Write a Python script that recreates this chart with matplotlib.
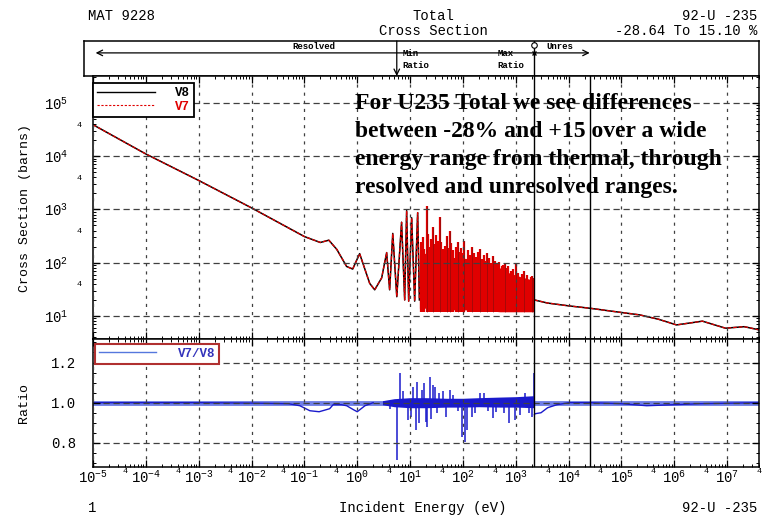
import numpy as np
import matplotlib
matplotlib.use("Agg")
import matplotlib.pyplot as plt
from matplotlib.lines import Line2D
from matplotlib.ticker import LogLocator, FuncFormatter, MultipleLocator, FixedLocator, NullFormatter

plt.rcParams['font.family'] = ['Liberation Mono', 'DejaVu Sans Mono']
plt.rcParams['mathtext.fontset'] = 'custom'
plt.rcParams['mathtext.rm'] = 'Liberation Mono'
plt.rcParams['mathtext.it'] = 'Liberation Mono'
plt.rcParams['axes.unicode_minus'] = False

# ---- data (energy in eV, cross section in barns) ----
# thermal + first resonances, one polyline
xs_low_e = [1e-5, 1e-4, 1e-3, 1e-2, 0.1, 0.2, 0.29, 0.41, 0.63, 0.82, 1.11, 1.72, 2.14,
            2.9, 3.6, 4.1, 4.7, 5.6, 6.9, 7.9, 8.6, 9.4, 10.7, 12.2, 13.9, 15.0]
xs_low_b = [3.9e4, 1.1e4, 3.5e3, 1070, 310, 240, 265, 178, 85, 76, 148, 41, 31,
            52, 155, 31, 355, 23, 575, 20, 950, 19, 700, 19, 870, 20]
# dense resolved resonance band (envelope)
band_e = [15, 20, 27, 36, 50, 70, 117, 200, 320, 500, 760, 1200, 1700, 2250]
band_hi = [150, 150, 140, 138, 130, 125, 120, 105, 92, 80, 64, 55, 50, 46]
band_lo = [14, 14, 14, 14, 13.5, 13, 13, 12.5, 12.5, 12, 12, 12, 12, 12]
# tall resonance peaks sticking out of the band
spike_e = [20.6, 26.8, 36.3, 49, 56, 79, 107, 146, 210, 290, 365, 615, 1000, 1450, 2070]
spike_b = [1170, 460, 710, 320, 400, 250, 260, 200, 180, 150, 135, 100, 100, 70, 56]
# smaller peaks making the ragged top of the band
bpeak_e = [16, 17.5, 18.5, 21.5, 23, 24.5, 28.5, 30.5, 32.5, 34, 39, 42, 45, 52, 60, 65,
           74, 85, 92, 100, 125, 135, 160, 175, 190, 230, 250, 270, 310, 340, 400, 440,
           480, 540, 580, 660, 720, 820, 900, 1100, 1300, 1600, 1900, 2150]
bpeak_b = [250, 300, 180, 350, 200, 280, 220, 330, 190, 260, 240, 180, 210, 190, 230, 170,
           200, 160, 185, 150, 170, 140, 155, 130, 160, 120, 140, 110, 125, 100, 110, 95,
           105, 85, 90, 80, 85, 70, 75, 65, 62, 58, 55, 52]
# unresolved + fast range
xs_high_e = [2250, 4000, 1e4, 2.5e4, 9e4, 2.2e5, 5e5, 1.1e6, 3.4e6, 9.3e6, 2.1e7, 4e7]
xs_high_b = [20, 17.5, 15.5, 14, 11.8, 10.5, 8.7, 6.8, 8.0, 5.9, 6.3, 5.5]

# ratio V7/V8
ratio_low_e = [1e-5, 1e-3, 1e-2, 0.05, 0.082, 0.127, 0.19, 0.3, 0.35, 0.5, 0.63, 0.85, 1.0, 1.4, 2.0]
ratio_low_v = [1.0, 1.0, 0.998, 0.995, 0.985, 0.96, 0.955, 0.97, 0.99, 0.99, 0.985, 0.965, 0.955, 0.985, 1.0]
ratio_band_e = [3, 5, 10, 20, 50, 100, 200, 500, 1000, 2250]
ratio_band_lo = [0.99, 0.98, 0.975, 0.975, 0.978, 0.978, 0.98, 0.978, 0.978, 0.975]
ratio_band_hi = [1.01, 1.02, 1.025, 1.025, 1.022, 1.022, 1.025, 1.028, 1.03, 1.035]
ratio_spike_e = [4.1, 5.6, 6.4, 7.5, 9.0, 10.5, 11.5, 12.7, 13.3, 15, 16.6, 18, 19.7, 21,
                 23.4, 25, 26.8, 30, 33, 36, 42, 47, 56, 65, 80, 95, 108, 118, 146, 170,
                 210, 250, 300, 365, 430, 600, 760, 950, 1200, 1500, 1800, 2070, 2250]
ratio_spike_v = [0.97, 0.715, 1.15, 1.06, 0.915, 0.93, 1.08, 0.865, 1.105, 0.9, 1.065, 1.1,
                 0.905, 0.88, 1.13, 0.92, 1.09, 1.08, 0.95, 1.05, 1.06, 0.93, 1.065, 1.04,
                 0.96, 0.83, 0.805, 0.865, 0.93, 0.95, 1.05, 1.05, 0.96, 0.925, 0.955, 0.95,
                 0.90, 0.915, 0.94, 1.05, 0.95, 0.93, 1.15]
ratio_high_e = [2250, 2300, 3000, 4000, 6000, 1e4, 2.5e4, 1e5, 3e5, 1e6, 3e6, 4e7]
ratio_high_v = [0.94, 0.945, 0.95, 0.975, 0.99, 1.0, 1.0, 0.995, 0.985, 0.99, 0.995, 1.0]

E_MIN_RATIO = 5.6
E_RES_MAX = 2250
E_URR_MAX = 2.5e4
RATIO_REF = 1.0
XLIM = (1e-5, 4e7)

W, H = 764, 520
fig = plt.figure(figsize=(W / 100, H / 100), dpi=100)


def px_rect(l, t, r, b):
    return [l / W, 1 - b / H, (r - l) / W, (b - t) / H]


ax_box = fig.add_axes(px_rect(84, 41, 759, 76))
ax = fig.add_axes(px_rect(93, 76, 759, 339))
axr = fig.add_axes(px_rect(93, 339, 759, 467))

dec_px = (759 - 93) / (np.log10(XLIM[1]) - np.log10(XLIM[0]))

# ---- main cross section ----
red = '#e00000'
dark = '#7a1010'
for e, b in [(xs_low_e, xs_low_b), (xs_high_e, xs_high_b)]:
    ax.plot(e, b, color='k', lw=1.1, zorder=2)
    ax.plot(e, b, color=red, lw=0.9, ls=(0, (3, 1.5)), zorder=2.1)
ax.fill_between(band_e, band_lo, band_hi, color=red, lw=0, zorder=2)
ax.vlines(bpeak_e, min(band_lo), bpeak_b, color=red, lw=1.6, zorder=2.2)
ax.vlines(spike_e, min(band_lo), spike_b, color=red, lw=1.6, zorder=2.2)
ax.vlines(spike_e, min(band_lo), spike_b, color=dark, lw=0.4, zorder=2.3)

ax.set_xscale('log')
ax.set_yscale('log')
ax.set_xlim(*XLIM)
ax.set_ylim(3.7, 3.2e5)

# ---- ratio ----
blue = '#1a1acc'
axr.axhline(RATIO_REF, color='#6f7fe8', lw=3.5, zorder=1.8)
axr.plot(ratio_low_e, ratio_low_v, color=blue, lw=1.0, zorder=2)
axr.plot(ratio_high_e, ratio_high_v, color=blue, lw=1.0, zorder=2)
axr.fill_between(ratio_band_e, ratio_band_lo, ratio_band_hi, color=blue, lw=0, zorder=2)
axr.vlines(ratio_spike_e, RATIO_REF, ratio_spike_v, color=blue, lw=1.1, zorder=2)
axr.set_xscale('log')
axr.set_xlim(*XLIM)
axr.set_ylim(0.68, 1.317)

for a in (ax, axr):
    a.axvline(E_RES_MAX, color='k', lw=1.0, zorder=3)
    a.axvline(E_URR_MAX, color='k', lw=1.0, zorder=3)
    a.set_axisbelow(False)
    a.xaxis.set_major_locator(LogLocator(base=10, numticks=30))
    a.xaxis.set_minor_locator(LogLocator(base=10, subs=np.arange(2, 10), numticks=300))
    a.grid(True, which='major', axis='x', color='0.25', lw=0.9, ls=(0, (2.5, 4)))
    a.grid(True, which='major', axis='y', color='0.25', lw=0.9, ls=(0, (5, 3)))
    a.tick_params(which='both', direction='in', top=True, right=True, colors='k')
    a.tick_params(which='major', length=5, width=0.9)
    a.tick_params(which='minor', length=2.5, width=0.7)
    for s in a.spines.values():
        s.set_linewidth(1.1)


def dec_label(v, pos):
    return r'$10^{%d}$' % int(round(np.log10(v)))


def four_label(v, pos, vmin=0):
    m = v / 10 ** np.floor(np.log10(v) + 1e-9)
    return '4' if abs(m - 4) < 1e-6 and v > vmin else ''


ax.tick_params(labelbottom=False)
ax.yaxis.set_major_locator(LogLocator(base=10, numticks=30))
ax.yaxis.set_minor_locator(LogLocator(base=10, subs=np.arange(2, 10), numticks=300))
ax.yaxis.set_major_formatter(FuncFormatter(dec_label))
ax.yaxis.set_minor_formatter(FuncFormatter(lambda v, p: four_label(v, p, vmin=10)))
ax.tick_params(axis='y', which='major', labelsize=10, pad=18)
ax.tick_params(axis='y', which='minor', labelsize=6, pad=8)
ax.set_ylabel('Cross Section (barns)', fontsize=9.5, labelpad=9)

axr.xaxis.set_major_formatter(FuncFormatter(dec_label))
axr.xaxis.set_minor_formatter(FuncFormatter(four_label))
axr.tick_params(axis='x', which='major', labelsize=10, pad=2)
axr.tick_params(axis='x', which='minor', labelsize=6, pad=1)
axr.yaxis.set_major_locator(FixedLocator([0.8, 1.0, 1.2]))
axr.yaxis.set_minor_locator(MultipleLocator(0.05))
axr.yaxis.set_major_formatter(FuncFormatter(lambda v, p: '%.1f' % v))
axr.yaxis.set_minor_formatter(NullFormatter())
axr.tick_params(axis='y', which='major', labelsize=10, pad=12)
axr.set_ylabel('Ratio', fontsize=9.5, labelpad=15)

# ---- legends ----
leg = ax.legend([Line2D([], [], color='k', lw=1.0),
                 Line2D([], [], color=red, lw=0.8, ls=(0, (2, 1.5)))],
                ['V8', 'V7'], loc='upper left', bbox_to_anchor=(0, 1 - 7 / 263),
                borderaxespad=0, fancybox=False, edgecolor='k', framealpha=1,
                handlelength=4.6, handletextpad=1.6, labelspacing=0.1, borderpad=0.35,
                prop={'family': 'Liberation Mono', 'size': 9, 'weight': 'bold'})
leg.get_frame().set_linewidth(1.3)
leg.get_texts()[1].set_color(red)

legr = axr.legend([Line2D([], [], color='#5577dd', lw=1.0)], ['V7/V8'],
                  loc='upper left', bbox_to_anchor=(2 / 666, 1 - 5 / 128),
                  borderaxespad=0, fancybox=False, edgecolor='#b03030', framealpha=1,
                  handlelength=4.6, handletextpad=1.7, borderpad=0.3,
                  prop={'family': 'Liberation Mono', 'size': 9, 'weight': 'bold'})
legr.get_frame().set_linewidth(1.5)
legr.get_texts()[0].set_color('#3333bb')

# ---- range box on top ----
ax_box.set_xscale('log')
ax_box.set_xlim(10 ** (np.log10(XLIM[0]) - 9 / dec_px), XLIM[1])
ax_box.set_ylim(0, 1)
ax_box.set_xticks([])
ax_box.set_yticks([])
ax_box.minorticks_off()
for s in ax_box.spines.values():
    s.set_linewidth(1.1)
y_arrow = 0.66
x_left = 10 ** (np.log10(XLIM[0]) + 0.05)
ax_box.annotate('', xy=(x_left, y_arrow), xytext=(E_RES_MAX, y_arrow),
                arrowprops=dict(arrowstyle='->', lw=0.9, color='k', shrinkA=0, shrinkB=0))
ax_box.annotate('', xy=(E_URR_MAX, y_arrow), xytext=(E_RES_MAX, y_arrow),
                arrowprops=dict(arrowstyle='->', lw=0.9, color='k', shrinkA=0, shrinkB=0))
ax_box.axvline(E_RES_MAX, color='k', lw=1.0)
ax_box.plot([E_RES_MAX], [0.9], marker='o', ms=4, mfc='white', mec='k', mew=0.8)
ax_box.plot([E_RES_MAX], [y_arrow], marker='x', ms=3.5, color='k', mew=1.0)
ax_box.annotate('', xy=(E_MIN_RATIO, 0.0), xytext=(E_MIN_RATIO, 1.0),
                arrowprops=dict(arrowstyle='->', lw=0.9, color='k', shrinkA=0, shrinkB=0))
ax_box.text(0.15, 0.84, 'Resolved', fontsize=6.5, ha='center', va='center', weight='bold')
ax_box.text(3.8e3, 0.84, 'Unres', fontsize=6.5, ha='left', va='center', weight='bold')
ax_box.text(E_MIN_RATIO * 1.3, 0.47, 'Min\nRatio', fontsize=6.5, ha='left', va='center',
            weight='bold', linespacing=1.4)
ax_box.text(450, 0.47, 'Max\nRatio', fontsize=6.5, ha='left', va='center',
            weight='bold', linespacing=1.4)

# ---- header / footer texts ----
fig.text(88 / W, 1 - 16 / H, 'MAT 9228', fontsize=10, ha='left', va='center')
fig.text(433 / W, 1 - 16 / H, 'Total', fontsize=10, ha='center', va='center')
fig.text(433 / W, 1 - 31 / H, 'Cross Section', fontsize=10, ha='center', va='center')
fig.text(757 / W, 1 - 16 / H, '92-U -235', fontsize=10, ha='right', va='center')
fig.text(757 / W, 1 - 31 / H, '-28.64 To 15.10 %', fontsize=10, ha='right', va='center')
fig.text(88 / W, 1 - 508 / H, '1', fontsize=10, ha='left', va='center')
fig.text(423 / W, 1 - 508 / H, 'Incident Energy (eV)', fontsize=10, ha='center', va='center')
fig.text(757 / W, 1 - 508 / H, '92-U -235', fontsize=10, ha='right', va='center')

fig.text(355 / W, 1 - 93 / H,
         'For U235 Total we see differences\n'
         'between -28% and +15 over a wide\n'
         'energy range from thermal, through\n'
         'resolved and unresolved ranges.',
         family=['Liberation Serif', 'DejaVu Serif'], weight='bold', fontsize=17,
         ha='left', va='top', linespacing=1.44)

fig.savefig('out.png', dpi=100)
